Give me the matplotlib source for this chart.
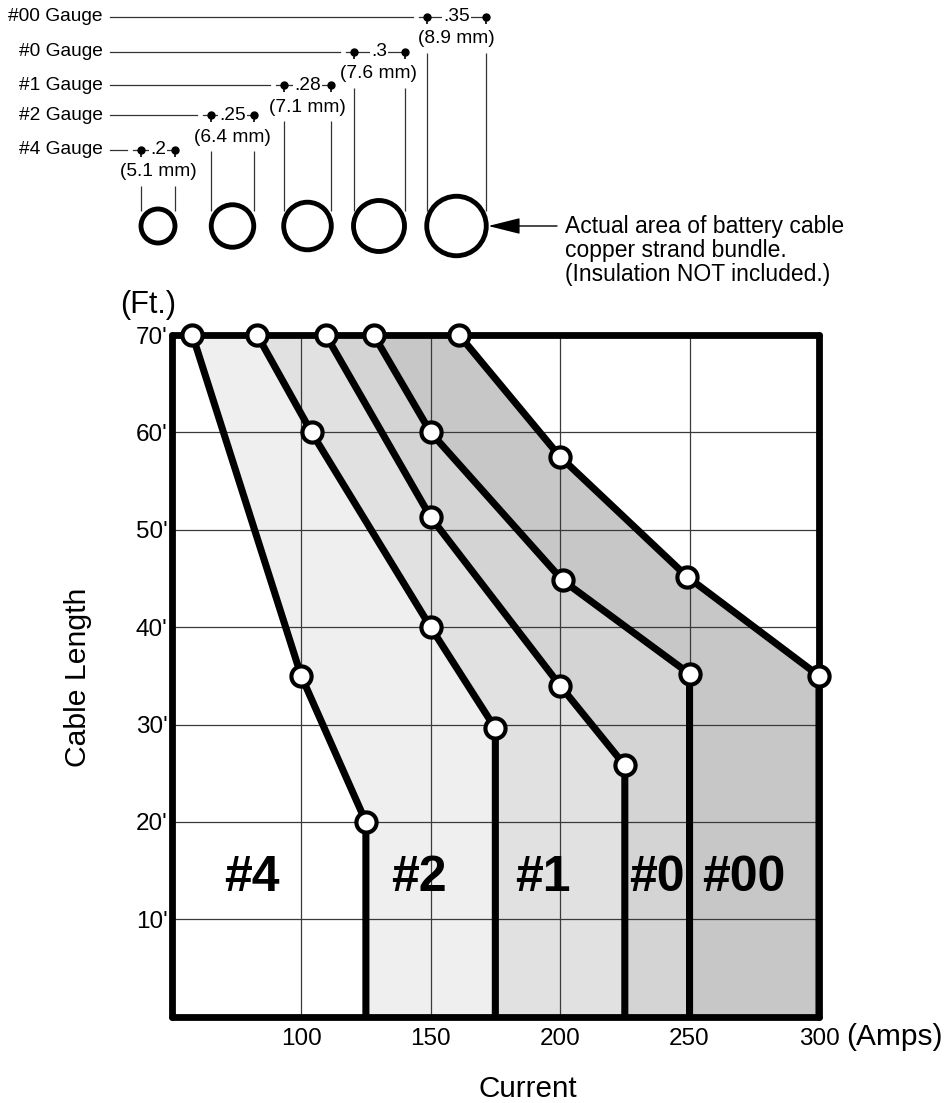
import matplotlib
matplotlib.use('Agg')
import matplotlib.pyplot as plt
from matplotlib.patches import Circle

plt.rcParams['font.family'] = ['Liberation Sans', 'DejaVu Sans']

# gauge info
gauges = ['#4', '#2', '#1', '#0', '#00']
diam_in = [0.2, 0.25, 0.28, 0.3, 0.35]
diam_mm = [5.1, 6.4, 7.1, 7.6, 8.9]

# break points of each gauge limit line (current in amps, cable length in ft)
amps_4 = [58, 100, 125]
feet_4 = [70, 35, 20]
amps_2 = [83, 104, 150, 175]
feet_2 = [70, 60, 40, 29.6]
amps_1 = [109.5, 150, 200, 225]
feet_1 = [70, 51.3, 34, 25.8]
amps_0 = [128, 150, 201, 250]
feet_0 = [70, 60, 44.8, 35.2]
amps_00 = [161, 200, 249, 300]
feet_00 = [70, 57.5, 45.2, 35]

x_ticks = [100, 150, 200, 250, 300]
y_ticks = [10, 20, 30, 40, 50, 60, 70]

curves = [(amps_4, feet_4), (amps_2, feet_2), (amps_1, feet_1),
          (amps_0, feet_0), (amps_00, feet_00)]
fills = ['#efefef', '#e1e1e1', '#d4d4d4', '#c7c7c7']

fig = plt.figure(figsize=(9.47, 11.03), dpi=100)
W, H = 947, 1103
ax = fig.add_axes([171.7 / W, 1 - 1016.7 / H, (819 - 171.7) / W, (1016.7 - 335) / H])

# full path: break points plus vertical drop to 0 ft
paths = []
for a, f in curves:
    paths.append((a + [a[-1]], f + [0]))

for i in range(4):
    xa, ya = paths[i]
    xb, yb = paths[i + 1]
    ax.fill(xa + xb[::-1], ya + yb[::-1], color=fills[i], lw=0, zorder=1)

for xs, ys in paths:
    ax.plot(xs, ys, color='black', lw=5.1, solid_capstyle='round',
            solid_joinstyle='round', zorder=3)
for a, f in curves:
    ax.plot(a, f, 'o', ms=14.5, mfc='white', mec='black', mew=3,
            zorder=5, clip_on=False)

ax.set_xlim(50, 300)
ax.set_ylim(0, 70)
ax.set_xticks(x_ticks)
ax.set_xticklabels([str(t) for t in x_ticks])
ax.set_yticks(y_ticks)
ax.set_yticklabels([f"{t}'" for t in y_ticks])
ax.tick_params(length=0, labelsize=17.5)
ax.tick_params(axis='x', pad=8)
ax.tick_params(axis='y', pad=3)
ax.set_axisbelow('line')
ax.grid(True, color='#3a3a3a', lw=0.9)
for s in ax.spines.values():
    s.set_linewidth(4.9)
    s.set_capstyle('round')
    s.set_joinstyle('round')

# region labels
label_x = [81, 145.5, 193.5, 237.5, 271]
for g, lx in zip(gauges, label_x):
    ax.text(lx, 14.2, g, ha='center', va='center', fontsize=36,
            fontweight='bold', zorder=6)

fig.text(148 / W, 1 - 305 / H, '(Ft.)', ha='center', va='center', fontsize=22)
fig.text(894 / W, 1 - 1037 / H, '(Amps)', ha='center', va='center', fontsize=21.5)
fig.text(528 / W, 1 - 1089 / H, 'Current', ha='center', va='center', fontsize=21.3)
fig.text(78 / W, 1 - 677 / H, 'Cable Length', ha='center', va='center',
         fontsize=21.7, rotation=90)

# cable cross-section diagram in pixel coordinates
top = fig.add_axes([0, 0, 1, 1])
top.set_xlim(0, W)
top.set_ylim(H, 0)
top.axis('off')

px_per_in = 170
centers_x = [158, 232.5, 307.5, 379, 456.5]
circle_y = 226
row_y = [150, 115, 85, 51.7, 16.7]

for g, d, mm, cx, ry in zip(gauges, diam_in, diam_mm, centers_x, row_y):
    r = d * px_per_in / 2
    left, right = cx - r, cx + r
    top.add_patch(Circle((cx, circle_y), r, fill=False, ec='black', lw=3.5))
    top.text(103, ry, f'{g} Gauge', ha='right', va='center', fontsize=13.8)
    top.plot([110, left - 14], [ry, ry], color='#333333', lw=0.9)
    top.plot([left - 8, right], [ry, ry], color='#333333', lw=0.9)
    top.plot([left, right], [ry, ry], 'o', ms=5, color='black')
    top.vlines([left, right], ry, ry + 7, color='black', lw=1.2)
    top.text(cx, ry, f'{d:g}'.lstrip('0'), ha='center', va='center', fontsize=13.8,
             bbox=dict(fc='white', ec='none', pad=0.5))
    top.text(cx, ry + 22, f'({mm} mm)', ha='center', va='center', fontsize=13.8)
    top.vlines([left, right], ry + 36, circle_y - 15, color='#333333', lw=0.9)

top.annotate('', xy=(right + 2, circle_y), xytext=(557, circle_y),
             arrowprops=dict(arrowstyle='-|>,head_length=2,head_width=0.5',
                             color='black', lw=1, shrinkA=0, shrinkB=0))
top.text(565, 215, 'Actual area of battery cable\ncopper strand bundle.\n(Insulation NOT included.)',
         ha='left', va='top', fontsize=16.5, linespacing=1.05)

fig.savefig('out.png', dpi=100)
